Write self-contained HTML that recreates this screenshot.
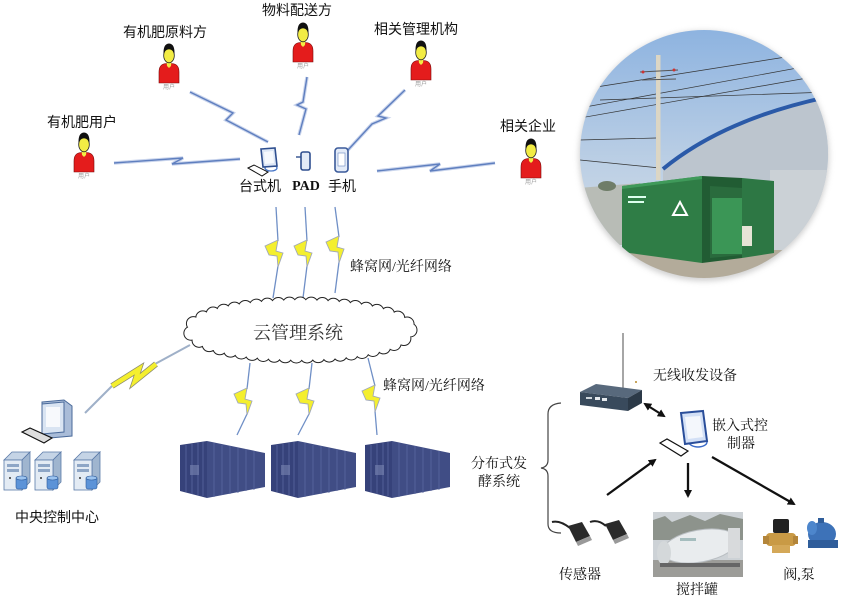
<!DOCTYPE html>
<html><head><meta charset="utf-8">
<style>
html,body{margin:0;padding:0;background:#fff;}
svg{display:block;}
.s{font-family:"Liberation Sans","Noto Sans CJK SC",sans-serif;fill:#111;}
.r{font-family:"Liberation Serif","Noto Serif CJK SC",serif;fill:#111;}
.u{font-family:"Liberation Sans","Noto Sans CJK SC",sans-serif;fill:#999;font-size:6px;}
</style></head>
<body>
<svg width="842" height="597" viewBox="0 0 842 597" xmlns="http://www.w3.org/2000/svg">
<defs>
  <g id="person">
    <path d="M1 40 L1 29 Q1 21 8 20.5 L14 20.5 Q21 21 21 29 L21 40 Z" fill="#e41c1c" stroke="#7a0a0a" stroke-width="0.6"/>
    <path d="M8.5 18 L13.5 18 L13 23 L11 25 L9 23 Z" fill="#f2ec44"/>
    <ellipse cx="11" cy="12.5" rx="5.3" ry="7.3" fill="#f2ec44" stroke="#222" stroke-width="0.8"/>
    <path d="M5.6 12 Q4.8 0.8 11 0.5 Q17.2 0.8 16.4 12 Q15.5 6.5 11 6.2 Q6.5 6.5 5.6 12Z" fill="#111"/>
  </g>
  <g id="bolt">
    <polygon points="0,6 13,0 11,11 18,13 13,27 12,16 4,15" fill="#f4ef2e" stroke="#a0a8b8" stroke-width="0.9" stroke-linejoin="miter"/>
  </g>
  <linearGradient id="sky" x1="0" y1="0" x2="0" y2="1">
    <stop offset="0" stop-color="#8db3e0"/>
    <stop offset="0.55" stop-color="#bdd0e5"/>
    <stop offset="1" stop-color="#dae0e6"/>
  </linearGradient>
  <clipPath id="circ"><circle cx="704" cy="154" r="124"/></clipPath>
  <filter id="blur" x="-20%" y="-20%" width="140%" height="140%"><feGaussianBlur stdDeviation="3"/></filter>
  <marker id="ah" markerWidth="8" markerHeight="8" refX="6" refY="4" orient="auto" markerUnits="userSpaceOnUse">
    <path d="M0 0 L8 4 L0 8 Z" fill="#111"/>
  </marker>
  <marker id="ahs" markerWidth="8" markerHeight="8" refX="2" refY="4" orient="auto" markerUnits="userSpaceOnUse">
    <path d="M8 0 L0 4 L8 8 Z" fill="#111"/>
  </marker>
</defs>

<!-- ===== top wireless links ===== -->
<g fill="none" stroke-linejoin="miter">
  <g stroke="#c9d4ec" stroke-width="3.5">
    <polyline points="190,92 233,113 226,120 268,142"/>
    <polyline points="114,163 183,158 172,164 240,159"/>
    <polyline points="307,77 303,102 297,105 306,109 299,135"/>
    <polyline points="405,90 378,116 386,118 372,124 348,150"/>
    <polyline points="377,171 440,164 430,171 495,163"/>
  </g>
  <g stroke="#5f7fbf" stroke-width="1.4">
    <polyline points="190,92 233,113 226,120 268,142"/>
    <polyline points="114,163 183,158 172,164 240,159"/>
    <polyline points="307,77 303,102 297,105 306,109 299,135"/>
    <polyline points="405,90 378,116 386,118 372,124 348,150"/>
    <polyline points="377,171 440,164 430,171 495,163"/>
  </g>
</g>

<!-- persons -->
<use href="#person" x="158" y="43"/>
<use href="#person" x="73" y="132"/>
<use href="#person" x="292" y="22"/>
<use href="#person" x="410" y="40"/>
<use href="#person" x="520" y="138"/>
<text class="u" x="169" y="89" text-anchor="middle">用户</text>
<text class="u" x="84" y="178" text-anchor="middle">用户</text>
<text class="u" x="303" y="68" text-anchor="middle">用户</text>
<text class="u" x="421" y="86" text-anchor="middle">用户</text>
<text class="u" x="531" y="184" text-anchor="middle">用户</text>

<text class="s" x="165" y="37" font-size="14" text-anchor="middle">有机肥原料方</text>
<text class="s" x="82" y="127" font-size="14" text-anchor="middle">有机肥用户</text>
<text class="s" x="297" y="15" font-size="14" text-anchor="middle">物料配送方</text>
<text class="s" x="416" y="34" font-size="14" text-anchor="middle">相关管理机构</text>
<text class="s" x="528" y="131" font-size="14" text-anchor="middle">相关企业</text>

<!-- devices -->
<g>
  <ellipse cx="271" cy="168" rx="6" ry="3" fill="#fff" stroke="#4a78c8" stroke-width="1.3"/>
  <path d="M261 149 L275 148 L277 166 L263 167 Z" fill="#dde7f6" stroke="#2f4f8f" stroke-width="1.6"/>
  <path d="M264 152 L273 151 L274 163 L265 164 Z" fill="#f6f9fd"/>
  <polygon points="248,168 254,165 268,172 262,176" fill="#fff" stroke="#111" stroke-width="1"/>
  <rect x="301" y="152" width="9" height="18" rx="2" fill="#e3ebf8" stroke="#2f4f8f" stroke-width="1.6"/>
  <line x1="296" y1="157" x2="301" y2="157" stroke="#2f4f8f" stroke-width="1.4"/>
  <rect x="335" y="148" width="13" height="24" rx="3" fill="#e3ebf8" stroke="#3a5a9a" stroke-width="1.6"/>
  <rect x="338" y="153" width="7" height="13" fill="#fff" stroke="#6a88c0" stroke-width="0.6"/>
</g>
<text class="s" x="260" y="191" font-size="14" text-anchor="middle">台式机</text>
<text x="306" y="190" font-size="14" font-weight="bold" text-anchor="middle" font-family="'Liberation Serif',serif" fill="#111">PAD</text>
<text class="s" x="342" y="191" font-size="14" text-anchor="middle">手机</text>

<!-- ===== top bolts ===== -->
<g fill="none" stroke="#6f8fc6" stroke-width="1.3">
  <line x1="276" y1="207" x2="278" y2="241"/><line x1="278" y1="266" x2="273" y2="298"/>
  <line x1="305" y1="207" x2="307" y2="241"/><line x1="307" y1="266" x2="303" y2="298"/>
  <line x1="335" y1="207" x2="339" y2="237"/><line x1="339" y1="262" x2="335" y2="293"/>
</g>
<use href="#bolt" x="265" y="240"/>
<use href="#bolt" x="294" y="240"/>
<use href="#bolt" x="326" y="236"/>
<text class="r" x="350" y="271" font-size="14">蜂窝网/光纤网络</text>

<!-- ===== cloud ===== -->
<ellipse cx="300" cy="330" rx="110" ry="26" fill="none" stroke="#222" stroke-width="15" stroke-dasharray="0 11" stroke-linecap="round"/>
<ellipse cx="300" cy="330" rx="110" ry="26" fill="none" stroke="#fff" stroke-width="13" stroke-dasharray="0 11" stroke-linecap="round"/>
<ellipse cx="300" cy="330" rx="110" ry="26" fill="#fff"/>
<text class="r" x="298" y="339" font-size="18" text-anchor="middle" style="fill:#333">云管理系统</text>

<!-- ===== lower bolts ===== -->
<g fill="none" stroke="#6f8fc6" stroke-width="1.3">
  <line x1="250" y1="363" x2="247" y2="389"/><line x1="247" y1="414" x2="237" y2="435"/>
  <line x1="312" y1="363" x2="309" y2="389"/><line x1="309" y1="414" x2="298" y2="435"/>
  <line x1="368" y1="358" x2="375" y2="386"/><line x1="375" y1="411" x2="377" y2="435"/>
</g>
<use href="#bolt" x="234" y="388"/>
<use href="#bolt" x="296" y="388"/>
<use href="#bolt" x="362" y="385"/>
<text class="r" x="383" y="390" font-size="14">蜂窝网/光纤网络</text>

<!-- cloud to control center -->
<g fill="none">
  <polyline points="190,345 155,364" stroke="#9fb0c8" stroke-width="2"/>
  <polyline points="112,386 85,413" stroke="#9fb0c8" stroke-width="2"/>
  <polyline points="112,386 139,369 135,381 156,364" stroke="#8a8a70" stroke-width="6"/>
  <polyline points="112,386 139,369 135,381 156,364" stroke="#f4ef2e" stroke-width="4.5"/>
</g>

<!-- containers -->
<g id="cont">
  <polygon points="207,441 265,453 265,487 207,498" fill="#404d85"/>
  <polygon points="180,445 207,441 207,498 180,491" fill="#36427a"/>
  <g stroke="#5a68a0" stroke-width="0.8">
    <line x1="186" y1="445" x2="186" y2="492"/><line x1="192" y1="444" x2="192" y2="494"/>
    <line x1="198" y1="443" x2="198" y2="495"/><line x1="203" y1="442" x2="203" y2="496"/>
    <line x1="214" y1="443" x2="214" y2="497"/><line x1="222" y1="445" x2="222" y2="495"/>
    <line x1="230" y1="446" x2="230" y2="494"/><line x1="238" y1="448" x2="238" y2="493"/>
    <line x1="246" y1="449" x2="246" y2="491"/><line x1="254" y1="451" x2="254" y2="490"/>
  </g>
  <rect x="190" y="465" width="9" height="10" fill="#7a86b0" opacity="0.6"/>
</g>
<use href="#cont" x="91" y="0"/>
<use href="#cont" x="185" y="0"/>

<!-- control center -->
<g>
  <polygon points="42,402 64,400 72,406 72,436 50,438 42,432" fill="#a9bcd8" stroke="#4a6a9a" stroke-width="1"/>
  <polygon points="42,404 64,402 64,432 42,434" fill="#d9e4f2" stroke="#4a6a9a" stroke-width="1"/>
  <rect x="46" y="407" width="14" height="20" fill="#f7f9fc"/>
  <polygon points="22,432 30,428 52,438 44,443" fill="#ddd" stroke="#111" stroke-width="1.2"/>
  <g id="srv">
    <polygon points="4,460 12,452 30,452 22,460" fill="#c5d4e6" stroke="#5a7aa8" stroke-width="0.8"/>
    <polygon points="22,460 30,452 30,482 22,490" fill="#9fb5cf" stroke="#5a7aa8" stroke-width="0.8"/>
    <rect x="4" y="460" width="18" height="30" fill="#e3ebf4" stroke="#5a7aa8" stroke-width="0.8"/>
    <rect x="7" y="464" width="12" height="3" fill="#8ea6c6"/>
    <rect x="7" y="469" width="12" height="3" fill="#8ea6c6"/>
    <circle cx="10" cy="478" r="1" fill="#333"/>
    <rect x="16" y="477" width="11" height="12" rx="2" fill="#5c93d8" stroke="#2d5a9a" stroke-width="0.6"/>
    <ellipse cx="21.5" cy="478" rx="5.5" ry="2" fill="#9cc4f0" stroke="#2d5a9a" stroke-width="0.6"/>
  </g>
  <use href="#srv" x="31" y="0"/>
  <use href="#srv" x="70" y="0"/>
</g>
<text class="s" x="57" y="522" font-size="14" text-anchor="middle">中央控制中心</text>

<!-- ===== photo circle ===== -->
<circle cx="704" cy="156" r="125" fill="#aaa" filter="url(#blur)" opacity="0.55"/>
<g clip-path="url(#circ)">
  <rect x="578" y="28" width="254" height="254" fill="url(#sky)"/>
  <g stroke="#333" stroke-width="0.7" fill="none">
    <line x1="580" y1="108" x2="830" y2="62"/>
    <line x1="580" y1="118" x2="830" y2="74"/>
    <line x1="590" y1="88" x2="830" y2="50"/>
    <line x1="600" y1="100" x2="830" y2="92"/>
    <line x1="580" y1="160" x2="660" y2="168"/>
    <line x1="580" y1="140" x2="656" y2="138"/>
  </g>
  <polygon points="578,188 640,183 640,245 578,245" fill="#b8bcb6"/>
  <ellipse cx="607" cy="186" rx="9" ry="5" fill="#6f7d68"/>
  <rect x="656" y="55" width="4.5" height="125" fill="#dcd6c4"/>
  <g stroke="#555" stroke-width="1">
    <line x1="640" y1="72" x2="678" y2="70"/><line x1="642" y1="80" x2="676" y2="79"/>
  </g>
  <circle cx="643" cy="72" r="1.5" fill="#c33"/><circle cx="674" cy="70" r="1.5" fill="#c33"/>
  <path d="M663 169 Q725 118 832 96 L832 262 L663 262 Z" fill="#bcc5ce"/>
  <rect x="770" y="170" width="62" height="92" fill="#cbd1d6"/>
  <path d="M663 169 Q725 118 832 96" fill="none" stroke="#2b5aa8" stroke-width="4"/>
  <rect x="578" y="250" width="254" height="34" fill="#b3ab9a"/>
  <polygon points="622,186 702,176 702,263 622,252" fill="#2f7d46"/>
  <polygon points="622,186 702,176 702,179 622,189" fill="#3f9a5a"/>
  <polygon points="702,176 742,178 742,258 702,263" fill="#215c33"/>
  <polygon points="710,186 742,188 742,255 710,258" fill="#2a6b3d"/>
  <rect x="712" y="198" width="34" height="56" fill="#3b9656"/>
  <polygon points="742,178 774,181 774,253 742,258" fill="#2d7744"/>
  <rect x="742" y="226" width="10" height="20" fill="#e6e4d6"/>
  <g stroke="#fff" stroke-width="2" fill="none">
    <path d="M673 215 L680 202 L687 215 Z"/>
  </g>
  <rect x="628" y="196" width="18" height="2" fill="#dfe"/>
  <rect x="628" y="201" width="16" height="2" fill="#dfe"/>
</g>

<!-- ===== bottom right ===== -->
<line x1="623" y1="333" x2="623" y2="392" stroke="#888" stroke-width="1.5"/>
<polygon points="580,392 596,384 642,390 628,398" fill="#58697c"/>
<polygon points="580,392 628,398 628,411 580,405" fill="#394a5c"/>
<polygon points="628,398 642,390 642,403 628,411" fill="#2c3a48"/>
<rect x="586" y="397" width="6" height="2" fill="#cfd6dc"/>
<rect x="595" y="397" width="5" height="3" fill="#e6eaee"/>
<rect x="602" y="398" width="5" height="3" fill="#e6eaee"/>
<circle cx="636" cy="382" r="1" fill="#b88a2a"/>
<text class="r" x="653" y="380" font-size="14">无线收发设备</text>

<line x1="645" y1="404" x2="664" y2="416" stroke="#111" stroke-width="2.2" marker-start="url(#ahs)" marker-end="url(#ah)"/>

<ellipse cx="698" cy="442" rx="9" ry="5" fill="#fff" stroke="#3a6ac8" stroke-width="1.4"/>
<path d="M681 413 L703 411 L707 441 L685 444 Z" fill="#d3e0f6" stroke="#2a4e9a" stroke-width="2"/>
<path d="M685 417 L700 416 L703 437 L688 439 Z" fill="#f4f7fc"/>
<polygon points="660,443 667,439 688,451 681,456" fill="#fff" stroke="#111" stroke-width="1.2"/>
<text class="r" x="712" y="430" font-size="14">嵌入式控</text>
<text class="r" x="727" y="448" font-size="14">制器</text>

<path d="M561 403 Q548 404 548 414 L548 460 Q548 467 541 468 Q548 469 548 476 L548 524 Q548 533 561 533" fill="none" stroke="#444" stroke-width="1.2"/>
<text class="r" x="499" y="468" font-size="14" text-anchor="middle">分布式发</text>
<text class="r" x="499" y="486" font-size="14" text-anchor="middle">酵系统</text>

<g stroke="#111" stroke-width="2.3">
  <line x1="607" y1="495" x2="655" y2="460" marker-end="url(#ah)"/>
  <line x1="688" y1="463" x2="688" y2="496" marker-end="url(#ah)"/>
  <line x1="712" y1="457" x2="794" y2="504" marker-end="url(#ah)"/>
</g>

<!-- sensors -->
<g>
  <path d="M552 522 Q560 520 570 528" fill="none" stroke="#222" stroke-width="2"/>
  <polygon points="568,526 582,522 590,536 576,542" fill="#2a2a2a"/>
  <polygon points="576,542 590,536 592,540 578,546" fill="#999"/>
  <path d="M590 522 Q598 519 606 526" fill="none" stroke="#222" stroke-width="2"/>
  <polygon points="605,524 619,520 627,534 613,540" fill="#2a2a2a"/>
  <polygon points="613,540 627,534 629,538 615,544" fill="#999"/>
</g>
<text class="r" x="580" y="579" font-size="14" text-anchor="middle">传感器</text>

<!-- mixer photo -->
<g>
  <rect x="653" y="512" width="90" height="65" fill="#cdd2d6"/>
  <path d="M653 520 L665 516 L672 522 L690 515 L705 521 L720 514 L743 519 L743 540 L653 540 Z" fill="#8d938c"/>
  <rect x="653" y="560" width="90" height="17" fill="#9c9c98"/>
  <ellipse cx="700" cy="546" rx="38" ry="16" transform="rotate(-10 700 546)" fill="#e9ecee" stroke="#b9bec2" stroke-width="1"/>
  <ellipse cx="664" cy="553" rx="7" ry="12" fill="#d4d8da"/>
  <rect x="680" y="538" width="16" height="3" fill="#8aa" opacity="0.7"/>
  <rect x="660" y="563" width="80" height="4" fill="#666"/>
  <rect x="728" y="528" width="12" height="30" fill="#d8dadc"/>
</g>
<text class="r" x="697" y="594" font-size="14" text-anchor="middle">搅拌罐</text>

<!-- valve & pump -->
<g>
  <rect x="773" y="519" width="16" height="14" rx="2" fill="#222"/>
  <rect x="766" y="533" width="30" height="13" rx="4" fill="#c99a45"/>
  <rect x="763" y="536" width="6" height="8" fill="#b3853a"/>
  <rect x="793" y="536" width="5" height="8" fill="#b3853a"/>
  <rect x="772" y="545" width="18" height="8" fill="#d4a858"/>
  <ellipse cx="822" cy="534" rx="14" ry="12" fill="#3d72b8"/>
  <rect x="808" y="540" width="30" height="8" fill="#2f5d9a"/>
  <ellipse cx="812" cy="528" rx="5" ry="7" fill="#4d86cc"/>
  <rect x="818" y="518" width="6" height="5" fill="#2f5d9a"/>
</g>
<text class="r" x="799" y="579" font-size="14" text-anchor="middle">阀,泵</text>

</svg>
</body></html>
